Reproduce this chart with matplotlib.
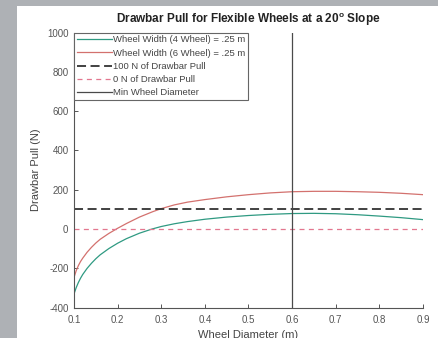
import numpy as np
import matplotlib.pyplot as plt
from matplotlib.patches import Rectangle

plt.rcParams['font.family'] = ['Liberation Sans', 'DejaVu Sans']
plt.rcParams['mathtext.fontset'] = 'custom'
plt.rcParams['mathtext.rm'] = 'Liberation Sans'
plt.rcParams['mathtext.bf'] = 'Liberation Sans:bold'
plt.rcParams['axes.unicode_minus'] = False

# wheel diameter (m) and drawbar pull (N)
diameter = [0.10, 0.105, 0.11, 0.115, 0.12, 0.13, 0.14, 0.15, 0.16, 0.18, 0.20,
            0.22, 0.25, 0.28, 0.30, 0.33, 0.36, 0.40, 0.45, 0.50, 0.55, 0.60,
            0.65, 0.70, 0.75, 0.80, 0.85, 0.90]
pull_4wheel = [-330, -298, -272, -250, -231, -200, -174, -151, -131, -99, -72,
               -49, -21, 1, 13, 27, 38, 50, 61, 69, 75, 79,
               80, 78, 73, 66, 58, 48]
pull_6wheel = [-246, -212, -186, -165, -148, -118, -93, -71, -52, -22, 4,
               28, 61, 88, 104, 123, 137, 150, 164, 175, 184, 190,
               192, 192, 190, 187, 182, 175]
target_pull = 100
zero_pull = 0
min_diameter = 0.6

labels = ['Wheel Width (4 Wheel) = .25 m', 'Wheel Width (6 Wheel) = .25 m',
          '100 N of Drawbar Pull', '0 N of Drawbar Pull', 'Min Wheel Diameter']

fig = plt.figure(figsize=(4.39, 3.38), dpi=100, facecolor='#aeb1b5')
# white panel on top of the grey backdrop
panel = Rectangle((17 / 439, 0), 1, (338 - 6) / 338, transform=fig.transFigure,
                  facecolor='white', edgecolor='none', zorder=-10)
fig.add_artist(panel)

ax = fig.add_axes([74 / 439, 30.3 / 338, 349 / 439, 275.2 / 338])
ax.set_zorder(1)
ax.set_facecolor('white')

ax.plot(diameter, pull_4wheel, color='#2f9a82', lw=0.9, label=labels[0])
ax.plot(diameter, pull_6wheel, color='#d3716e', lw=0.9, label=labels[1])
ax.axhline(target_pull, color='#333333', lw=1.3, dashes=(5, 2.5), label=labels[2])
ax.axhline(zero_pull, color='#e3778f', lw=0.9, dashes=(4, 3.5), label=labels[3])
ax.axvline(min_diameter, color='#4a4a4a', lw=0.9, label=labels[4])

ax.set_xlim(0.1, 0.9)
ax.set_ylim(-400, 1000)
ax.set_xticks(np.arange(0.1, 0.91, 0.1))
ax.set_xticklabels(['0.1', '0.2', '0.3', '0.4', '0.5', '0.6', '0.7', '0.8', '0.9'])
ax.set_yticks(np.arange(-400, 1001, 200))

for side in ['top', 'right']:
    ax.spines[side].set_visible(False)
for side in ['left', 'bottom']:
    ax.spines[side].set_color('#555555')
    ax.spines[side].set_linewidth(0.8)
ax.tick_params(direction='in', length=3, width=0.7, color='#555555',
               labelsize=7, labelcolor='#555555')
ax.tick_params(axis='x', pad=5.5)
ax.tick_params(axis='y', pad=4)

ax.set_title('Drawbar Pull for Flexible Wheels at a 20$^{\\bf o}$ Slope',
             fontsize=8.5, fontweight='bold', color='#222222', pad=7)
ax.set_xlabel('Wheel Diameter (m)', fontsize=8, color='#444444', labelpad=3)
ax.set_ylabel('Drawbar Pull (N)', fontsize=8, color='#444444', labelpad=4)

leg = ax.legend(loc='upper left', bbox_to_anchor=(0, 1), borderaxespad=0,
                fontsize=6.8, handlelength=3.7, handletextpad=0.1,
                labelspacing=0.45, borderpad=0.3, fancybox=False, framealpha=1)
leg.get_frame().set_edgecolor('#666666')
leg.get_frame().set_linewidth(0.8)
for t in leg.get_texts():
    t.set_color('#444444')

fig.savefig('out.png', dpi=100, facecolor=fig.get_facecolor())
